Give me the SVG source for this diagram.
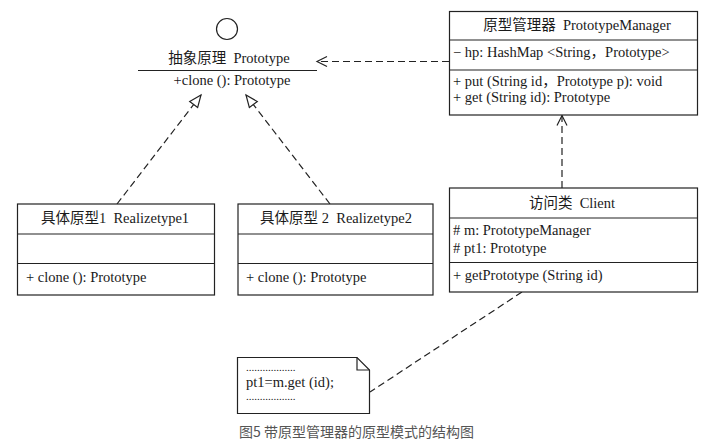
<svg xmlns="http://www.w3.org/2000/svg" width="706" height="446" viewBox="0 0 706 446">
<defs>
<style>
.box{fill:#fff;stroke:#222;stroke-width:1.2}
.ln{stroke:#222;stroke-width:1.2;fill:none}
.dash{stroke:#222;stroke-width:1.2;fill:none;stroke-dasharray:7 4}
.t{font-family:"Liberation Serif","Noto Sans CJK SC",serif;font-size:14.5px;fill:#1a1a1a;white-space:pre}
.d{font-family:"Liberation Serif",serif;font-size:11px;fill:#1a1a1a}
.c{text-anchor:middle}
.cap{font-family:"Noto Sans CJK SC","Noto Sans",sans-serif;font-size:14px;fill:#555}
</style>
<marker id="tri" markerUnits="userSpaceOnUse" markerWidth="16" markerHeight="14" refX="13" refY="6" orient="auto">
<path d="M1,1 L13,6 L1,11 Z" fill="#fff" stroke="#222" stroke-width="1.2"/>
</marker>
<marker id="open" markerUnits="userSpaceOnUse" markerWidth="14" markerHeight="14" refX="11" refY="6" orient="auto">
<path d="M1,1 L11,6 L1,11" fill="none" stroke="#222" stroke-width="1.2"/>
</marker>
</defs>
<rect width="706" height="446" fill="#fff"/>

<g id="connectors">
<line class="dash" x1="117" y1="204" x2="201" y2="95" marker-end="url(#tri)"/>
<line class="dash" x1="330" y1="204" x2="246" y2="95" marker-end="url(#tri)"/>
<line class="dash" x1="449" y1="61.5" x2="317" y2="61.5" marker-end="url(#open)"/>
<line class="dash" x1="562" y1="188" x2="562" y2="115.5" marker-end="url(#open)"/>
<line class="dash" x1="522" y1="292" x2="370" y2="392"/>
</g>

<g id="prototype">
<circle class="ln" cx="227" cy="29" r="10.5"/>
<text class="t c" x="229" y="63" xml:space="preserve">抽象原理  Prototype</text>
<line class="ln" x1="138" y1="70.5" x2="317" y2="70.5"/>
<text class="t c" x="232" y="85" xml:space="preserve">+clone (): Prototype</text>
</g>

<g id="manager">
<rect class="box" x="449.5" y="11.5" width="248" height="103.5"/>
<line class="ln" x1="449.5" y1="40" x2="697.5" y2="40"/>
<line class="ln" x1="449.5" y1="70" x2="697.5" y2="70"/>
<text class="t c" x="577" y="30" xml:space="preserve">原型管理器  PrototypeManager</text>
<text class="t" x="453" y="57" xml:space="preserve">− hp: HashMap &lt;String，Prototype&gt;</text>
<text class="t" x="453" y="86" xml:space="preserve">+ put (String id，Prototype p): void</text>
<text class="t" x="453" y="102" xml:space="preserve">+ get (String id): Prototype</text>
</g>

<g id="client">
<rect class="box" x="449.5" y="188" width="248" height="104"/>
<line class="ln" x1="449.5" y1="218" x2="697.5" y2="218"/>
<line class="ln" x1="449.5" y1="262.5" x2="697.5" y2="262.5"/>
<text class="t c" x="572" y="208" xml:space="preserve">访问类  Client</text>
<text class="t" x="453" y="235" xml:space="preserve"># m: PrototypeManager</text>
<text class="t" x="453" y="252.5" xml:space="preserve"># pt1: Prototype</text>
<text class="t" x="453" y="280" xml:space="preserve">+ getPrototype (String id)</text>
</g>

<g id="realize1">
<rect class="box" x="17.5" y="204" width="197" height="91"/>
<line class="ln" x1="17.5" y1="234" x2="214.5" y2="234"/>
<line class="ln" x1="17.5" y1="263.5" x2="214.5" y2="263.5"/>
<text class="t c" x="115" y="223" xml:space="preserve">具体原型1  Realizetype1</text>
<text class="t" x="26" y="282" xml:space="preserve">+ clone (): Prototype</text>
</g>

<g id="realize2">
<rect class="box" x="238" y="204" width="195" height="91"/>
<line class="ln" x1="238" y1="234" x2="433" y2="234"/>
<line class="ln" x1="238" y1="263.5" x2="433" y2="263.5"/>
<text class="t c" x="336" y="223" xml:space="preserve">具体原型 2  Realizetype2</text>
<text class="t" x="246" y="282" xml:space="preserve">+ clone (): Prototype</text>
</g>

<g id="note">
<path class="box" d="M237.5,357.5 H357 L369.5,370 V413.5 H237.5 Z"/>
<path class="ln" d="M357,357.5 V370 H369.5"/>
<text class="d" x="246" y="371">..................</text>
<text class="t" x="246" y="387">pt1=m.get (id);</text>
<text class="d" x="246" y="400">..................</text>
</g>

<text class="cap" x="239" y="437">图5 带原型管理器的原型模式的结构图</text>
</svg>
